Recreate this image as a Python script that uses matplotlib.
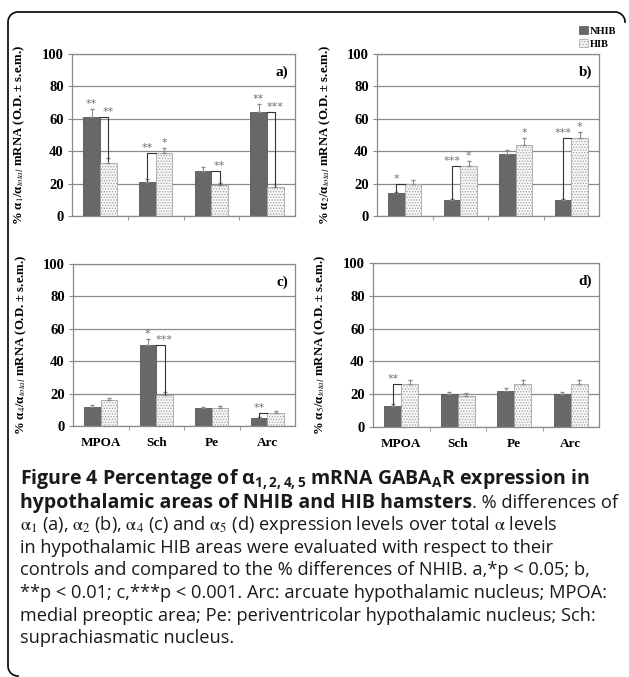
import numpy as np
import matplotlib
matplotlib.use('Agg')
import matplotlib.pyplot as plt
from matplotlib.patches import Patch

# data
areas = ['MPOA', 'Sch', 'Pe', 'Arc']
panels = ['a)', 'b)', 'c)', 'd)']
subs = ['1', '2', '4', '5']

nhib = [[61, 21, 28, 64],
        [14, 10, 38, 10],
        [12, 50, 11, 5],
        [13, 20, 22, 20]]
nhib_err = [[5, 2, 2, 5],
            [1, 0.8, 2.5, 0.8],
            [1, 4, 1, 0.8],
            [1, 1.5, 2, 1.5]]
hib = [[33, 39, 19, 18],
       [20, 31, 44, 48],
       [16, 19, 11, 8],
       [26, 19, 26, 26]]
hib_err = [[3, 3, 1.5, 1.5],
           [2, 3, 4, 4],
           [1.5, 2, 1.2, 1],
           [2.5, 2, 2.5, 2.5]]

# stars over single bars: (panel, area index, group, text)
stars = [(0, 0, 'N', '**'), (0, 1, 'H', '*'), (0, 3, 'N', '**'),
         (1, 1, 'H', '*'), (1, 2, 'H', '*'), (1, 3, 'H', '*'),
         (2, 1, 'N', '*')]
# brackets between NHIB and HIB: (panel, area index, text)
brackets = [(0, 0, '**'), (0, 1, '**'), (0, 2, '**'), (0, 3, '***'),
            (1, 0, '*'), (1, 1, '***'), (1, 3, '***'),
            (2, 1, '***'), (2, 3, '**'),
            (3, 0, '**')]

dark = '#686868'
light = '#f6f6f6'
grid_c = '#8a8a8a'
star_c = '#707070'
serif = 'Liberation Serif'
cap_font = 'Open Sans'

plt.rcParams['hatch.color'] = '#cfcfcf'
plt.rcParams['hatch.linewidth'] = 0.6
plt.rcParams['mathtext.fontset'] = 'custom'
plt.rcParams['mathtext.rm'] = cap_font
plt.rcParams['mathtext.it'] = cap_font
plt.rcParams['mathtext.bf'] = cap_font + ':bold'

W, H = 629, 677
fig = plt.figure(figsize=(W / 100, H / 100), dpi=100)

def px(x0, y0, x1, y1):
    return [x0 / W, 1 - y1 / H, (x1 - x0) / W, (y1 - y0) / H]

boxes = [px(72, 54, 295, 216), px(377, 54, 599, 216),
         px(73, 264, 295, 426), px(373, 263, 599, 427)]

bw = 0.3
x = np.arange(len(areas))
axes = []
for i in range(4):
    ax = fig.add_axes(boxes[i])
    axes.append(ax)
    ax.set_axisbelow(True)
    ax.yaxis.grid(True, color=grid_c, lw=0.9)
    ax.bar(x - bw / 2, nhib[i], bw, color=dark, edgecolor='#555555', lw=0.6, zorder=2)
    ax.bar(x + bw / 2, hib[i], bw, color=light, edgecolor='#a5a5a5', lw=0.6,
           hatch='......', zorder=2)
    ax.errorbar(x - bw / 2, nhib[i], yerr=[np.zeros(4), nhib_err[i]], fmt='none',
                ecolor='#8a8a8a', elinewidth=0.7, capsize=1.5, zorder=3)
    ax.errorbar(x + bw / 2, hib[i], yerr=[np.zeros(4), hib_err[i]], fmt='none',
                ecolor='#8a8a8a', elinewidth=0.7, capsize=1.5, zorder=3)
    ax.set_xlim(-0.5, 3.5)
    ax.set_ylim(0, 100)
    ax.set_yticks([0, 20, 40, 60, 80, 100])
    ax.set_xticks([0.5, 1.5, 2.5], minor=True)
    ax.set_xticks(x)
    if i >= 2:
        ax.set_xticklabels(areas, fontfamily=serif, fontweight='bold', fontsize=9.5)
    else:
        ax.set_xticklabels([])
    ax.tick_params(axis='x', which='major', length=0, pad=8)
    ax.tick_params(axis='x', which='minor', length=3, color=grid_c)
    ax.tick_params(axis='y', length=3, color=grid_c, pad=3)
    for lab in ax.get_yticklabels():
        lab.set_fontfamily(serif)
        lab.set_fontweight('bold')
        lab.set_fontsize(10.5)
    for s in ax.spines.values():
        s.set_color(grid_c)
        s.set_linewidth(0.9)
    ax.text(0.97, 0.93, panels[i], transform=ax.transAxes, ha='right', va='top',
            fontfamily=serif, fontweight='bold', fontsize=11)
    ax.set_ylabel('%% α$_{%s}$/α$_{total}$ mRNA (O.D. ± s.e.m.)' % subs[i],
                  fontfamily=serif, fontweight='bold', fontsize=9.2, math_fontfamily='stix')
    ax.yaxis.set_label_coords(-0.2, 0.5)

for p, a, g, t in stars:
    ax = axes[p]
    if g == 'N':
        xx, yy = a - bw / 2, nhib[p][a] + nhib_err[p][a]
    else:
        xx, yy = a + bw / 2, hib[p][a] + hib_err[p][a]
    ax.text(xx, yy, t, ha='center', va='bottom', color=star_c, fontsize=8, zorder=4)

for p, a, t in brackets:
    ax = axes[p]
    n, h = nhib[p][a], hib[p][a]
    if n > h:
        # from NHIB top right to HIB centre then down
        ax.plot([a, a + bw / 2, a + bw / 2], [n, n, h + hib_err[p][a] * 0.3],
                color='#333333', lw=0.8, zorder=4)
        ax.text(a + bw / 2, n, t, ha='center', va='bottom', color=star_c, fontsize=8, zorder=4)
    else:
        ax.plot([a - bw / 2, a - bw / 2, a], [n + nhib_err[p][a] * 0.3, h, h],
                color='#333333', lw=0.8, zorder=4)
        ax.text(a - bw / 2, h, t, ha='center', va='bottom', color=star_c, fontsize=8, zorder=4)

handles = [Patch(facecolor=dark, edgecolor='#555555', lw=0.5),
           Patch(facecolor=light, edgecolor='#a5a5a5', lw=0.5, hatch='......')]
axes[1].legend(handles, ['NHIB', 'HIB'], loc='lower right', bbox_to_anchor=(1.1, 1.0),
               frameon=False, handlelength=0.8, handleheight=0.8, handletextpad=0.2,
               labelspacing=0.3, borderaxespad=0.1,
               prop={'family': serif, 'weight': 'bold', 'size': 7.5})

# frame round the figure (top and left edges only)
r = 10
t = np.linspace(0, np.pi / 2, 20)
top_right = np.column_stack([615 + r * np.sin(t), 22 - r * np.cos(t)])
top = np.array([[615, 12], [8 + r, 12]])
top_left = np.column_stack([8 + r - r * np.sin(t), 12 + r - r * np.cos(t)])
left = np.array([[8, 12 + r], [8, 676 - r]])
bot_left = np.column_stack([8 + r - r * np.cos(t), 676 - r + r * np.sin(t)])
pts = np.vstack([top_right[::-1], top, top_left, left, bot_left])
fig.add_artist(plt.Line2D(pts[:, 0] / W, 1 - pts[:, 1] / H, color='black', lw=1.2,
                          transform=fig.transFigure))

# caption: (text, weight, math font)
a_ = '\\mathrm{\\alpha}'
lines = [
    [('Figure 4 Percentage of α$_\\mathbf{1,2,4,5}$ mRNA GABA$_\\mathbf{A}$R expression in', 'bold', 'custom')],
    [('hypothalamic areas of NHIB and HIB hamsters', 'bold', 'custom'),
     ('. % differences of', 'normal', 'custom')],
    [('$%s_1$ (a), $%s_2$ (b), $%s_4$ (c) and $%s_5$ (d) expression levels over total $%s$ levels'
      % (a_, a_, a_, a_, a_), 'normal', 'stix')],
    [('in hypothalamic HIB areas were evaluated with respect to their', 'normal', 'custom')],
    [('controls and compared to the % differences of NHIB. a,*p < 0.05; b,', 'normal', 'custom')],
    [('**p < 0.01; c,***p < 0.001. Arc: arcuate hypothalamic nucleus; MPOA:', 'normal', 'custom')],
    [('medial preoptic area; Pe: periventricolar hypothalamic nucleus; Sch:', 'normal', 'custom')],
    [('suprachiasmatic nucleus.', 'normal', 'custom')],
]
renderer = fig.canvas.get_renderer()

# pick font sizes so the widths match the page
def width_at(txt, wt, size):
    tx = fig.text(0, 0, txt, fontfamily=cap_font, fontweight=wt, fontsize=size)
    w = tx.get_window_extent(renderer).width
    tx.remove()
    return w

reg_size = 10 * 588 / width_at(lines[5][0][0], 'normal', 10)
bold_size = 10 * 452 / width_at(lines[1][0][0], 'bold', 10)
sizes = {'normal': reg_size, 'bold': bold_size}

y0 = 485
for k, parts in enumerate(lines):
    xpos = 20
    for txt, wt, mf in parts:
        tx = fig.text(xpos / W, 1 - (y0 + k * 22.6) / H, txt, fontfamily=cap_font,
                      fontweight=wt, fontsize=sizes[wt], color='#1a1a1a', va='baseline',
                      math_fontfamily=mf)
        bb = tx.get_window_extent(renderer)
        xpos += bb.width

fig.savefig('out.png', dpi=100)
